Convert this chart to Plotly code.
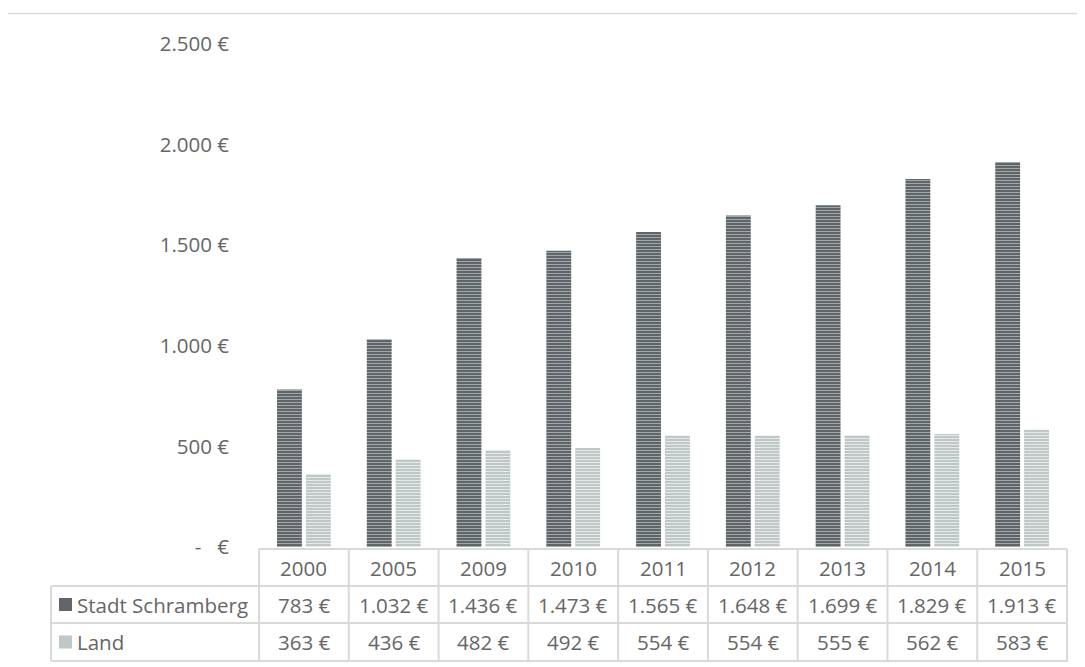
import plotly.graph_objects as go

# ---------------- data ----------------
years = ["2000", "2005", "2009", "2010", "2011", "2012", "2013", "2014", "2015"]
stadt = [783, 1032, 1436, 1473, 1565, 1648, 1699, 1829, 1913]
land = [363, 436, 482, 492, 554, 554, 555, 562, 583]
series_names = ["Stadt Schramberg", "Land"]
y_tickvals = [0, 500, 1000, 1500, 2000, 2500]
y_ticktext = ["-\u00a0\u00a0\u00a0€", "500 €", "1.000 €", "1.500 €", "2.000 €", "2.500 €"]

# ---------------- layout constants ----------------
W, H = 1085, 667
OFF = 8                     # page body margin of the html page
REF_L, REF_R, REF_T, REF_B = 258, 1068, 44, 547   # plot area in screen pixels
L, R, T, B = REF_L - OFF, REF_R - OFF, REF_T - OFF, REF_B - OFF
FONT = "Open Sans"
FS = 20.5
TXT = "#666666"
GRID = "#d9d9d9"
DARK_BG, DARK_FG = "#5f6568", "#a0a7a9"
LIGHT_BG, LIGHT_FG = "#bfc7c7", "#e4eaea"


def fmt(v):
    return f"{v:,}".replace(",", ".") + " €"


def py(p):
    """screen pixel y -> paper y"""
    return (REF_B - p) / (REF_B - REF_T)


def px(p):
    return (p - REF_L) / (REF_R - REF_L)


fig = go.Figure()
fig.add_trace(go.Bar(
    x=years, y=stadt, name=series_names[0],
    marker=dict(color=DARK_BG, line=dict(width=0),
                pattern=dict(shape="-", bgcolor=DARK_BG, fgcolor=DARK_FG,
                             size=3, solidity=0.35, fillmode="replace")),
))
fig.add_trace(go.Bar(
    x=years, y=land, name=series_names[1],
    marker=dict(color=LIGHT_BG, line=dict(width=0),
                pattern=dict(shape="-", bgcolor=LIGHT_BG, fgcolor=LIGHT_FG,
                             size=3, solidity=0.35, fillmode="replace")),
))

shapes = []
annotations = []

# outer chart border
shapes.append(dict(type="rect", xref="paper", yref="paper",
                   x0=px(4.5), x1=px(1110), y0=py(13.5), y1=py(700),
                   line=dict(color=GRID, width=1.5), fillcolor="rgba(0,0,0,0)", layer="below"))

# data table
row_edges = [549, 586, 623, 661]
shapes.append(dict(type="line", xref="x", yref="paper", x0=-0.5, x1=len(years) - 0.5,
                   y0=py(row_edges[0]), y1=py(row_edges[0]), line=dict(color=GRID, width=2)))
for e in row_edges[1:]:
    shapes.append(dict(type="line", xref="paper", yref="paper", x0=px(51), x1=px(REF_R),
                       y0=py(e), y1=py(e), line=dict(color=GRID, width=2)))
for i in range(len(years) + 1):
    shapes.append(dict(type="line", xref="x", yref="paper", x0=i - 0.5, x1=i - 0.5,
                       y0=py(row_edges[0]), y1=py(row_edges[-1]), line=dict(color=GRID, width=2)))
shapes.append(dict(type="line", xref="paper", yref="paper", x0=px(51), x1=px(51),
                   y0=py(row_edges[1]), y1=py(row_edges[-1]), line=dict(color=GRID, width=2)))

rows = [years, [fmt(v) for v in stadt], [fmt(v) for v in land]]
for r, row in enumerate(rows):
    yc = (row_edges[r] + row_edges[r + 1]) / 2
    for i, t in enumerate(row):
        annotations.append(dict(x=i, y=py(yc), xref="x", yref="paper", text=t, showarrow=False,
                                font=dict(family=FONT, size=FS, color=TXT), xanchor="center", yanchor="middle"))

key_colors = [DARK_BG, LIGHT_BG]
for r, name in enumerate(series_names):
    yc = (row_edges[r + 1] + row_edges[r + 2]) / 2
    shapes.append(dict(type="rect", xref="paper", yref="paper",
                       x0=px(59), x1=px(72), y0=py(yc - 6.5), y1=py(yc + 6.5),
                       fillcolor=key_colors[r], line=dict(width=0)))
    annotations.append(dict(x=px(75), y=py(yc), xref="paper", yref="paper", text=name, showarrow=False,
                            font=dict(family=FONT, size=FS, color=TXT), xanchor="left", yanchor="middle"))

fig.update_layout(
    width=W, height=H,
    margin=dict(l=L, r=W - R, t=T, b=H - B, pad=0),
    paper_bgcolor="white", plot_bgcolor="white",
    barmode="group", bargap=0.356, bargroupgap=0.14,
    showlegend=False,
    font=dict(family=FONT, size=FS, color=TXT),
    xaxis=dict(showticklabels=False, showgrid=False, zeroline=False, showline=False, ticks=""),
    yaxis=dict(range=[0, 2500], tickvals=y_tickvals, ticktext=y_ticktext, showgrid=False,
               zeroline=False, showline=False, ticks="", ticklabelstandoff=28,
               tickfont=dict(family=FONT, size=FS, color=TXT)),
    shapes=shapes, annotations=annotations,
)

fig.write_html("out.html")
